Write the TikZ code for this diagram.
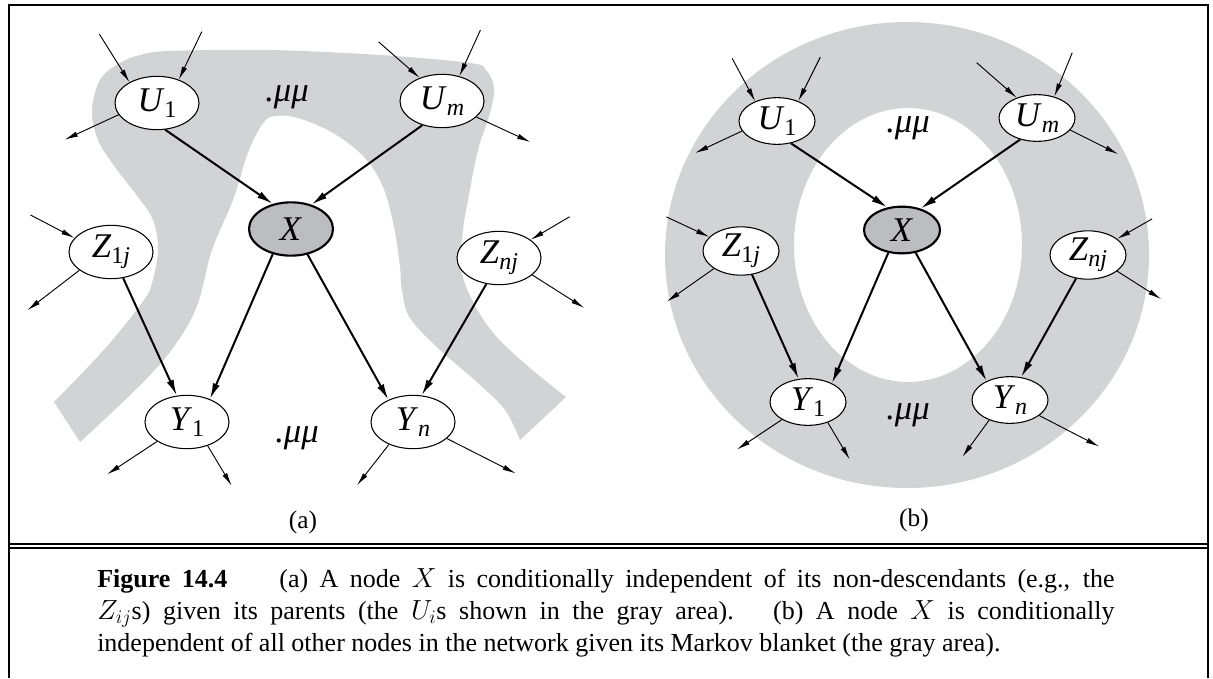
\documentclass[tikz,border=0pt]{standalone}
\usepackage{fontspec}
\setmainfont{Liberation Serif}
\usepackage{xcolor}
\usepackage{tikz}
\usetikzlibrary{arrows.meta, shapes.geometric}

\definecolor{blanket}{RGB}{209,211,212}
\definecolor{query}{RGB}{188,189,192}
\newcommand{\vlab}[2]{\textit{#1}\raisebox{-0.4ex}{\fontsize{18}{18}\selectfont #2}}

\begin{document}
\begin{tikzpicture}[x=0.75pt,y=-0.75pt,
  var/.style={draw, ellipse, line width=0.8pt, fill=white, inner sep=0pt, font=\fontsize{26}{28}\selectfont},
  vara/.style={var, minimum width=63pt, minimum height=40pt},
  varb/.style={var, minimum width=57pt, minimum height=35pt},
  qvar/.style={line width=1.6pt, fill=query},
  arr/.style={line width=0.7pt, -{Latex[length=10pt,width=4pt]}},
  bigarr/.style={line width=1.5pt, -{Latex[length=12pt,width=5.5pt]}},
  dots/.style={font=\fontsize{26}{28}\selectfont\itshape},
  frame/.style={line width=1.5pt}]
\useasboundingbox (0,0) rectangle (1213,678);

% frame
\draw[frame] (9,678) -- (9,5) -- (1208,5) -- (1208,678);
\draw[frame] (9,544) -- (1208,544);
\draw[frame] (9,548) -- (1208,548);

% (a) parents and non-descendants
\fill[blanket] plot[smooth, tension=0.6] coordinates {(80,442) (125,400) (161,363) (185,330) (199,300) (212,250)
    (233,200) (249,150) (264,122) (276,116) (298,118) (333,133) (364,157) (383,187) (394,227) (400,267)
    (402,290) (410,318) (440,350) (478,383) (505,410) (520,440)}
  -- plot[smooth, tension=0.6] coordinates {(566,397) (530,368) (495,335) (472,300) (461,267) (463,230)
    (468,200) (478,150) (490,113) (494,88) (486,70) (470,63) (380,55) (268,50) (170,51) (140,55) (118,64)
    (100,80) (92,110) (98,140) (115,167) (138,197) (153,220) (158,250) (152,283) (144,300) (115,337)
    (88,367) (54,402)}
  -- cycle;

\node[vara] (aU1) at (157,103) {\vlab{U}{1}};
\node[vara] (aUm) at (442,101) {\vlab{U}{\textit{m}}};
\node[vara, qvar] (aX) at (291,229) {\textit{X}};
\node[vara] (aZ1) at (111,252) {\vlab{Z}{1\textit{j}}};
\node[vara] (aZn) at (499,258) {\vlab{Z}{\textit{nj}}};
\node[vara] (aY1) at (187,422) {\vlab{Y}{1}};
\node[vara] (aYn) at (413,422) {\vlab{Y}{\textit{n}}};
\node[dots] (aDt) at (287,97) {.μμ};
\node[dots] (aDb) at (297,438) {.μμ};
\node[font=\fontsize{19}{22}\selectfont] (aLab) at (303,522) {(a)};

\draw[bigarr] (aU1.-73) -- (aX.126);
\draw[bigarr] (aUm.-129) -- (aX.50);
\draw[bigarr] (aX.-126) -- (aY1.45);
\draw[bigarr] (aX.-57) -- (aYn.138);
\draw[bigarr] (aZ1.-65) -- (aY1.111);
\draw[bigarr] (aZn.-116) -- (aYn.72);
\foreach \n/\a/\dx/\dy in {aU1/143/-30/-48, aU1/47/23/-48, aUm/134/-41/-36, aUm/55/21/-46,
    aZ1/159/-44/-23, aZn/30/39/-23}
  \draw[arr] (\n.\a) ++(\dx,\dy) -- (\n.\a);
\foreach \n/\a/\dx/\dy in {aU1/197/-54/25, aUm/-25/54/25, aZ1/210/-52/40, aZn/-27/52/33,
    aY1/213/-50/33, aY1/-49/24/40, aYn/223/-32/41, aYn/-26/69/35}
  \draw[arr] (\n.\a) -- ++(\dx,\dy);

% (b) Markov blanket
\fill[blanket, even odd rule] (907,255) ellipse [x radius=181.5pt, y radius=174.75pt]
  (908,245) ellipse [x radius=85.5pt, y radius=102.75pt];

\node[varb] (bU1) at (777,121) {\vlab{U}{1}};
\node[varb] (bUm) at (1037,118) {\vlab{U}{\textit{m}}};
\node[varb, qvar] (bX) at (902,230) {\textit{X}};
\node[varb] (bZ1) at (741,251) {\vlab{Z}{1\textit{j}}};
\node[varb] (bZn) at (1088,255) {\vlab{Z}{\textit{nj}}};
\node[varb] (bY1) at (808,402) {\vlab{Y}{1}};
\node[varb] (bYn) at (1010,400) {\vlab{Y}{\textit{n}}};
\node[dots] (bDt) at (908,128) {.μμ};
\node[dots] (bDb) at (908,415) {.μμ};
\node[font=\fontsize{19}{22}\selectfont] (bLab) at (914,520) {(b)};

\draw[bigarr] (bU1.-58) -- (bX.123);
\draw[bigarr] (bUm.-128) -- (bX.49);
\draw[bigarr] (bX.-121) -- (bY1.38);
\draw[bigarr] (bX.-59) -- (bYn.141);
\draw[bigarr] (bZ1.-65) -- (bY1.112);
\draw[bigarr] (bZn.-117) -- (bYn.64);
\foreach \n/\a/\dx/\dy in {bU1/138/-23/-43, bU1/43/22/-44, bUm/135/-40/-35, bUm/51/18/-44,
    bZ1/156/-43/-20, bZn/29/35/-20}
  \draw[arr] (\n.\a) ++(\dx,\dy) -- (\n.\a);
\foreach \n/\a/\dx/\dy in {bU1/196/-47/22, bUm/-20/48/24, bZ1/213/-47/33, bZn/-29/44/28,
    bY1/214/-45/30, bY1/-46/22/37, bYn/224/-27/37, bYn/-28/60/31}
  \draw[arr] (\n.\a) -- ++(\dx,\dy);

% caption
\node[anchor=base west, text width=763pt, align=justify, inner sep=0pt, font=\fontsize{19.5}{24}\selectfont] (cap) at (97,587)
  {\noindent\textbf{Figure 14.4}\hspace{2em}(a) A node $X$ is conditionally independent of its non-descendants (e.g., the\linebreak
   $Z_{ij}$s) given its parents (the $U_i$s shown in the gray area). \ (b) A node $X$ is conditionally\linebreak
   independent of all other nodes in the network given its Markov blanket (the gray area).\par};
\end{tikzpicture}
\end{document}
